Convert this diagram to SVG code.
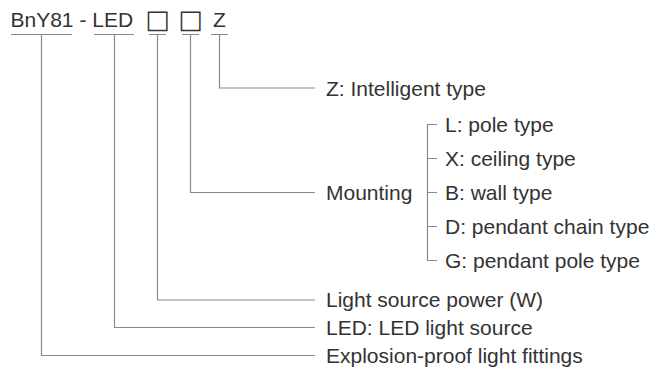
<svg xmlns="http://www.w3.org/2000/svg" width="654" height="381" viewBox="0 0 654 381">
<style>
text{font-family:"Liberation Sans",Arial,sans-serif;font-size:21px;fill:#333}
.sq{font-family:"DejaVu Sans","Liberation Sans",sans-serif;font-size:26px}
.ln{fill:none;stroke:#8a8a8a;stroke-width:1.2}
</style>
<rect width="654" height="381" fill="#fff"/>
<g id="code">
<text x="10.5" y="27">BnY81 - LED</text>
<text class="sq" x="157.5" y="27.5" text-anchor="middle">□</text>
<text class="sq" x="190.5" y="27.5" text-anchor="middle">□</text>
<text x="219.5" y="27" text-anchor="middle">Z</text>
</g>
<g id="connectors" class="ln">
<path d="M11 34.5H72M94 34.5H134M149 34.5H166M182 34.5H199M211 34.5H228"/>
<path d="M219.5 34.5V88H315"/>
<path d="M190.5 34.5V192.5H315"/>
<path d="M157.5 34.5V300H315"/>
<path d="M114.5 34.5V327.5H315"/>
<path d="M41.5 34.5V355.5H315"/>
<path d="M437 124.5H427.5V260.5H437M427.5 158.5H437M427.5 192.5H437M427.5 226.5H437"/>
</g>
<g id="intelligent"><text x="326" y="95.5">Z: Intelligent type</text></g>
<g id="mounting"><text x="326" y="200">Mounting</text></g>
<g id="opt-L"><text x="445" y="132">L: pole type</text></g>
<g id="opt-X"><text x="445" y="166">X: ceiling type</text></g>
<g id="opt-B"><text x="445" y="200">B: wall type</text></g>
<g id="opt-D"><text x="445" y="234">D: pendant chain type</text></g>
<g id="opt-G"><text x="445" y="268">G: pendant pole type</text></g>
<g id="power"><text x="326" y="307">Light source power (W)</text></g>
<g id="led"><text x="326" y="335">LED: LED light source</text></g>
<g id="explosion"><text x="326" y="363">Explosion-proof light fittings</text></g>
</svg>
